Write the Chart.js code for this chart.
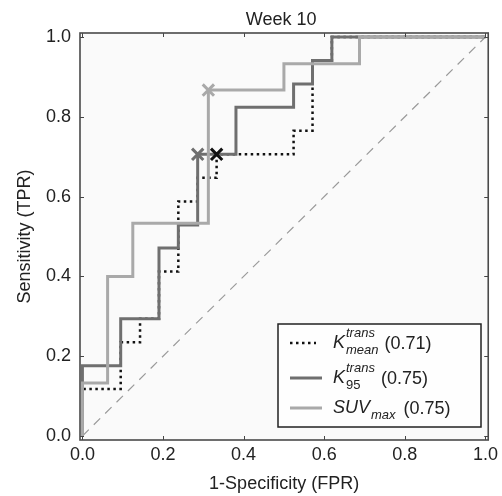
<!DOCTYPE html>
<html>
<head>
<meta charset="utf-8">
<script src="https://cdn.jsdelivr.net/npm/chart.js@4/dist/chart.umd.min.js"></script>
<style>
  html, body { margin: 0; padding: 0; background: #ffffff; }
  #wrap { width: 502px; height: 496px; position: relative; }
</style>
</head>
<body>
<div id="wrap"><canvas id="c" width="502" height="496"></canvas></div>
<script>
// ---- data ----
const chartTitle = 'Week 10';
const xAxisTitle = '1-Specificity (FPR)';
const yAxisTitle = 'Sensitivity (TPR)';
const xTicks = [0.0, 0.2, 0.4, 0.6, 0.8, 1.0];
const yTicks = [0.0, 0.2, 0.4, 0.6, 0.8, 1.0];

// ROC corner points (upper-left corners of each step)
const kmeanFpr = [0, 0, 0.095, 0.143, 0.190, 0.238, 0.286, 0.333, 0.524, 0.571, 0.619, 1.0];
const kmeanTpr = [0, 0.118, 0.235, 0.294, 0.412, 0.588, 0.647, 0.706, 0.765, 0.941, 1.0, 1.0];
const k95Fpr   = [0, 0, 0.095, 0.190, 0.238, 0.286, 0.381, 0.524, 0.571, 0.619, 1.0];
const k95Tpr   = [0, 0.176, 0.294, 0.471, 0.529, 0.706, 0.824, 0.882, 0.941, 1.0, 1.0];
const suvFpr   = [0, 0, 0.0625, 0.125, 0.3125, 0.5, 0.6875, 1.0];
const suvTpr   = [0, 0.133, 0.400, 0.533, 0.867, 0.933, 1.0, 1.0];

// optimal cut-off markers: Kmean, K95, SUVmax
const cutoffFpr = [0.333, 0.286, 0.3125];
const cutoffTpr = [0.706, 0.706, 0.867];

const chanceFpr = [0, 1];
const chanceTpr = [0, 1];

const aucLabels = ['(0.71)', '(0.75)', '(0.75)'];

// ---- styles ----
const colKmean = '#111111';
const colK95 = '#6f6f6f';
const colSuv = '#a9a9a9';
const textCol = '#222222';
const FONT = '"Liberation Sans", Arial, Helvetica, sans-serif';

const pts = (xs, ys) => xs.map((x, i) => ({ x: x, y: ys[i] }));

const plotDecor = {
  id: 'plotDecor',
  beforeDatasetsDraw(chart) {
    const { ctx, chartArea: a } = chart;
    ctx.save();
    ctx.fillStyle = '#fafafa';
    ctx.fillRect(a.left, a.top, a.right - a.left, a.bottom - a.top);
    ctx.restore();
  },
  afterDatasetsDraw(chart) {
    const { ctx, chartArea: a, scales } = chart;
    ctx.save();
    ctx.strokeStyle = '#444444';
    ctx.lineWidth = 1;
    const tl = 4;
    xTicks.forEach(v => {
      const px = Math.round(scales.x.getPixelForValue(v)) + 0.5;
      ctx.beginPath();
      ctx.moveTo(px, a.bottom); ctx.lineTo(px, a.bottom - tl);
      ctx.moveTo(px, a.top); ctx.lineTo(px, a.top + tl);
      ctx.stroke();
    });
    yTicks.forEach(v => {
      const py = Math.round(scales.y.getPixelForValue(v)) + 0.5;
      ctx.beginPath();
      ctx.moveTo(a.left, py); ctx.lineTo(a.left + tl, py);
      ctx.moveTo(a.right, py); ctx.lineTo(a.right - tl, py);
      ctx.stroke();
    });
    ctx.strokeStyle = '#4a4a4a';
    ctx.lineWidth = 1.6;
    ctx.strokeRect(a.left, a.top, a.right - a.left, a.bottom - a.top);
    ctx.restore();
  },
  afterDraw(chart) {
    const { ctx, chartArea: a } = chart;
    ctx.save();
    ctx.fillStyle = textCol;
    ctx.font = '18px ' + FONT;
    ctx.textAlign = 'center';
    ctx.textBaseline = 'middle';
    ctx.fillText(chartTitle, (a.left + a.right) / 2 - 3, 20);

    const bx = 278, by = 324, bw = 203, bh = 103;
    ctx.fillStyle = '#fefefe';
    ctx.fillRect(bx, by, bw, bh);
    ctx.strokeStyle = '#222222';
    ctx.lineWidth = 1.5;
    ctx.strokeRect(bx, by, bw, bh);

    const rows = [343, 378, 408];
    const sx0 = 290, sx1 = 322, tx = 333;
    ctx.textAlign = 'left';
    ctx.textBaseline = 'alphabetic';

    ctx.strokeStyle = colKmean;
    ctx.lineWidth = 2.5;
    ctx.setLineDash([2.5, 3.5]);
    ctx.beginPath(); ctx.moveTo(sx0, rows[0]); ctx.lineTo(316, rows[0]); ctx.stroke();
    ctx.setLineDash([]);
    ctx.strokeStyle = colK95; ctx.lineWidth = 3;
    ctx.beginPath(); ctx.moveTo(sx0, rows[1]); ctx.lineTo(sx1, rows[1]); ctx.stroke();
    ctx.strokeStyle = colSuv; ctx.lineWidth = 3;
    ctx.beginPath(); ctx.moveTo(sx0, rows[2]); ctx.lineTo(sx1, rows[2]); ctx.stroke();

    ctx.fillStyle = textCol;
    const mainFont = '18px ' + FONT;
    const itFont = 'italic 18px ' + FONT;
    const smallIt = 'italic 13px ' + FONT;
    const smallUp = '13px ' + FONT;

    function mathLabel(y, base, sup, sub, subUpright, auc, gap) {
      ctx.font = itFont;
      ctx.fillText(base, tx, y + 5);
      let x = tx + ctx.measureText(base).width + 1;
      let end = x;
      if (sup) {
        ctx.font = smallIt;
        ctx.fillText(sup, x, y - 6);
        end = Math.max(end, x + ctx.measureText(sup).width);
      }
      if (sub) {
        ctx.font = subUpright ? smallUp : smallIt;
        ctx.fillText(sub, x, y + 11);
        end = Math.max(end, x + ctx.measureText(sub).width);
      }
      ctx.font = mainFont;
      ctx.fillText(auc, end + gap, y + 6);
    }
    mathLabel(rows[0], 'K', 'trans', 'mean', false, aucLabels[0], 6);
    mathLabel(rows[1], 'K', 'trans', '95', true, aucLabels[1], 6);
    mathLabel(rows[2], 'SUV', null, 'max', false, aucLabels[2], 8);
    ctx.restore();
  }
};

const cfg = {
  type: 'line',
  data: {
    datasets: [
      {
        label: 'chance',
        order: 5,
        data: pts(chanceFpr, chanceTpr),
        borderColor: '#9a9a9a',
        borderWidth: 1.2,
        borderDash: [9, 7],
        pointRadius: 0,
        fill: false
      },
      {
        label: 'Kmean',
        order: 4,
        data: pts(kmeanFpr, kmeanTpr),
        borderColor: colKmean,
        borderWidth: 2.5,
        borderDash: [2.5, 3.5],
        stepped: 'before',
        pointRadius: 0,
        fill: false
      },
      {
        label: 'K95',
        order: 3,
        data: pts(k95Fpr, k95Tpr),
        borderColor: colK95,
        borderWidth: 3,
        stepped: 'before',
        pointRadius: 0,
        fill: false
      },
      {
        label: 'SUVmax',
        order: 2,
        data: pts(suvFpr, suvTpr),
        borderColor: colSuv,
        borderWidth: 3,
        stepped: 'before',
        pointRadius: 0,
        fill: false
      },
      {
        label: 'cutoffs',
        order: 1,
        data: pts(cutoffFpr, cutoffTpr),
        showLine: false,
        pointStyle: 'crossRot',
        pointRadius: 8,
        pointBorderWidth: 3,
        pointBorderColor: [colKmean, colK95, colSuv],
        pointBackgroundColor: [colKmean, colK95, colSuv]
      }
    ]
  },
  options: {
    responsive: false,
    animation: false,
    events: [],
    layout: { padding: { top: 33, right: 11, left: 0, bottom: 0 } },
    plugins: {
      legend: { display: false },
      title: { display: false },
      tooltip: { enabled: false }
    },
    scales: {
      x: {
        type: 'linear',
        min: -0.006,
        max: 1.007,
        afterBuildTicks: s => { s.ticks = xTicks.map(v => ({ value: v })); },
        afterFit: s => { s.height = 56; },
        grid: { display: false, drawTicks: false },
        border: { display: false },
        ticks: {
          padding: 4,
          color: textCol,
          font: { family: FONT, size: 18 },
          maxRotation: 0,
          callback: v => Number(v).toFixed(1)
        },
        title: {
          display: true,
          text: xAxisTitle,
          color: textCol,
          font: { family: FONT, size: 18 },
          padding: { top: 0, bottom: 1 }
        }
      },
      y: {
        type: 'linear',
        min: -0.01,
        max: 1.01,
        afterBuildTicks: s => { s.ticks = yTicks.map(v => ({ value: v })); },
        afterFit: s => { s.width = 80; },
        grid: { display: false, drawTicks: false },
        border: { display: false },
        ticks: {
          padding: 9,
          color: textCol,
          font: { family: FONT, size: 18 },
          callback: v => Number(v).toFixed(1)
        },
        title: {
          display: true,
          text: yAxisTitle,
          color: textCol,
          font: { family: FONT, size: 18 },
          padding: { top: 14, bottom: 0 }
        }
      }
    }
  },
  plugins: [plotDecor]
};

new Chart(document.getElementById('c').getContext('2d'), cfg);
</script>
</body>
</html>
